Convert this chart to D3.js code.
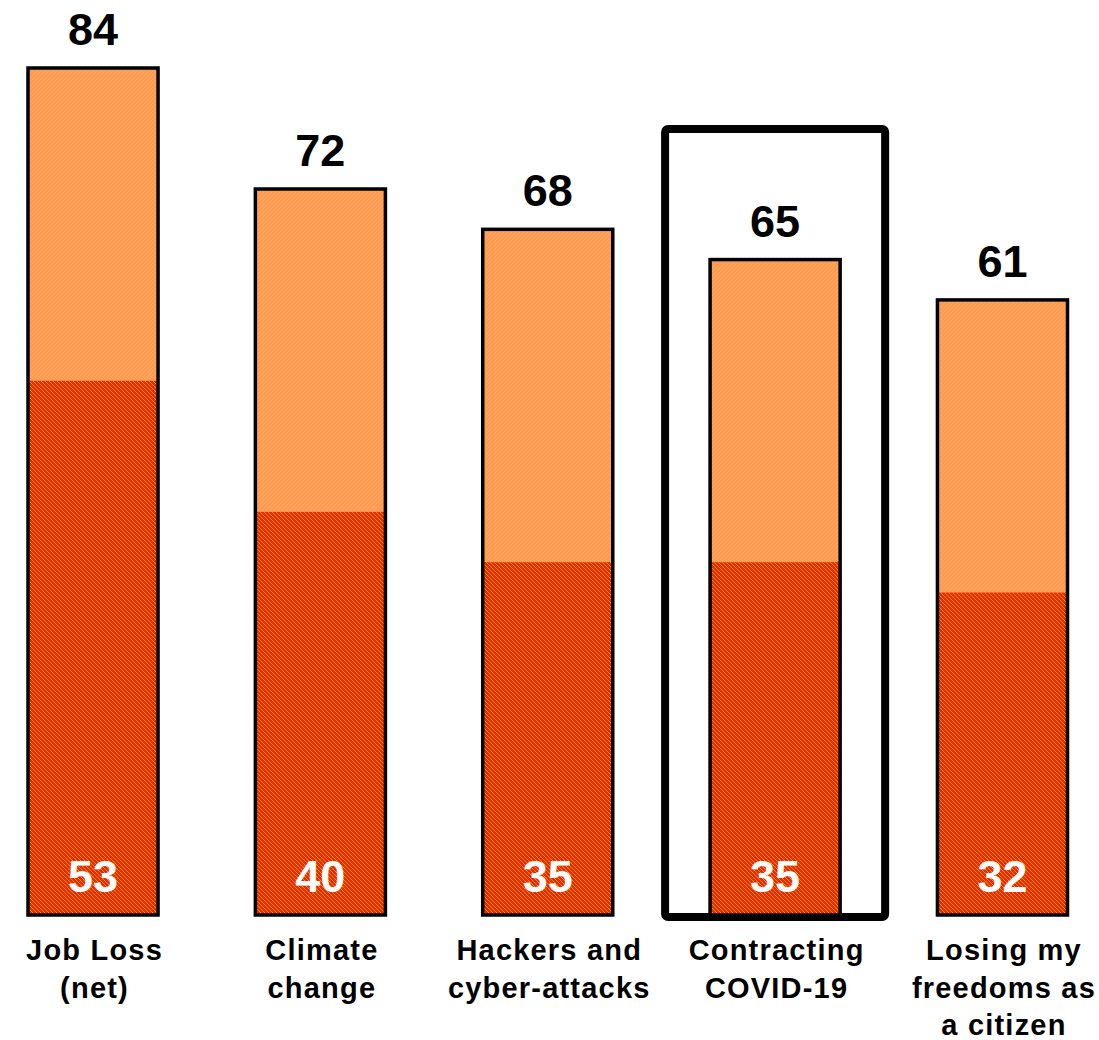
<!DOCTYPE html>
<html>
<head>
<meta charset="utf-8">
<script src="https://cdn.jsdelivr.net/npm/d3@7"></script>
<style>
  html, body { margin: 0; padding: 0; background: #fff; }
  svg { display: block; }
  text { font-family: Arial, "Liberation Sans", sans-serif; font-weight: bold; }
</style>
</head>
<body>
<svg id="chart" width="1099" height="1040"></svg>
<script>
const categories = ["Job Loss (net)", "Climate change", "Hackers and cyber-attacks", "Contracting COVID-19", "Losing my freedoms as a citizen"];
const categoryLines = [["Job Loss", "(net)"], ["Climate", "change"], ["Hackers and", "cyber-attacks"], ["Contracting", "COVID-19"], ["Losing my", "freedoms as", "a citizen"]];
const totalValues = [84, 72, 68, 65, 61];
const strongValues = [53, 40, 35, 35, 32];
const highlighted = "Contracting COVID-19";

const svg = d3.select("#chart");
const defs = svg.append("defs");

// pixel hatch patterns (4x4 tiles, transparent background)
function hatch(id, fg, dir) {
  const p = defs.append("pattern").attr("id", id).attr("patternUnits", "userSpaceOnUse")
    .attr("width", 4).attr("height", 4);
  p.selectAll("rect.px").data(d3.range(4)).join("rect").attr("class", "px")
    .attr("x", i => dir === "/" ? 3 - i : i).attr("y", i => i)
    .attr("width", 1).attr("height", 1).attr("fill", fg).attr("shape-rendering", "crispEdges");
}
hatch("hatchLight", "#FFC000", "/");
hatch("hatchDark", "#FFC000", "\\");

const x = d3.scaleBand().domain(categories).range([28, 1067.5]).paddingInner(0.428).paddingOuter(0);
const y = d3.scaleLinear().domain([0, 84]).range([915, 68]);

const g = svg.append("g");

// highlight box
g.append("rect")
  .attr("x", x(highlighted) - 45)
  .attr("y", 129)
  .attr("width", x.bandwidth() + 90)
  .attr("height", y(0) + 2 - 129)
  .attr("rx", 3)
  .attr("fill", "none")
  .attr("stroke", "#000")
  .attr("stroke-width", 8);

const bars = g.selectAll("g.bar").data(categories).join("g").attr("class", "bar");

const segTop = (d, i) => y(totalValues[i]);
const segMid = (d, i) => y(strongValues[i]);

// top (light) segment: solid base + hatch overlay
bars.append("rect")
  .attr("x", d => x(d)).attr("y", segTop).attr("width", x.bandwidth())
  .attr("height", (d, i) => segMid(d, i) - segTop(d, i))
  .attr("fill", "#FF9868");
bars.append("rect")
  .attr("x", d => x(d)).attr("y", segTop).attr("width", x.bandwidth())
  .attr("height", (d, i) => segMid(d, i) - segTop(d, i))
  .attr("fill", "url(#hatchLight)").attr("opacity", 0.7);

// bottom (dark) segment: solid base + hatch overlay
bars.append("rect")
  .attr("x", d => x(d)).attr("y", segMid).attr("width", x.bandwidth())
  .attr("height", (d, i) => y(0) - segMid(d, i))
  .attr("fill", "#EA2A06");
bars.append("rect")
  .attr("x", d => x(d)).attr("y", segMid).attr("width", x.bandwidth())
  .attr("height", (d, i) => y(0) - segMid(d, i))
  .attr("fill", "url(#hatchDark)").attr("opacity", 0.7);

// outline
bars.append("rect")
  .attr("x", d => x(d))
  .attr("y", segTop)
  .attr("width", x.bandwidth())
  .attr("height", (d, i) => y(0) - segTop(d, i))
  .attr("fill", "none")
  .attr("stroke", "#000")
  .attr("stroke-width", 3.5);

// total labels
bars.append("text")
  .attr("x", d => x(d) + x.bandwidth() / 2)
  .attr("y", (d, i) => y(totalValues[i]) - 23)
  .attr("text-anchor", "middle")
  .attr("font-size", 45)
  .attr("fill", "#000")
  .text((d, i) => totalValues[i]);

// strong labels
bars.append("text")
  .attr("x", d => x(d) + x.bandwidth() / 2)
  .attr("y", y(0) - 23)
  .attr("text-anchor", "middle")
  .attr("font-size", 45)
  .attr("fill", "#fff")
  .text((d, i) => strongValues[i]);

// category labels
bars.append("text")
  .attr("text-anchor", "middle")
  .attr("font-size", 29)
  .attr("letter-spacing", 1.2)
  .attr("fill", "#000")
  .each(function(d, i) {
    const t = d3.select(this);
    categoryLines[i].forEach((line, k) => {
      t.append("tspan")
        .attr("x", x(d) + x.bandwidth() / 2 + 1.5)
        .attr("y", 960 + k * 37.5)
        .text(line);
    });
  });
</script>
</body>
</html>
